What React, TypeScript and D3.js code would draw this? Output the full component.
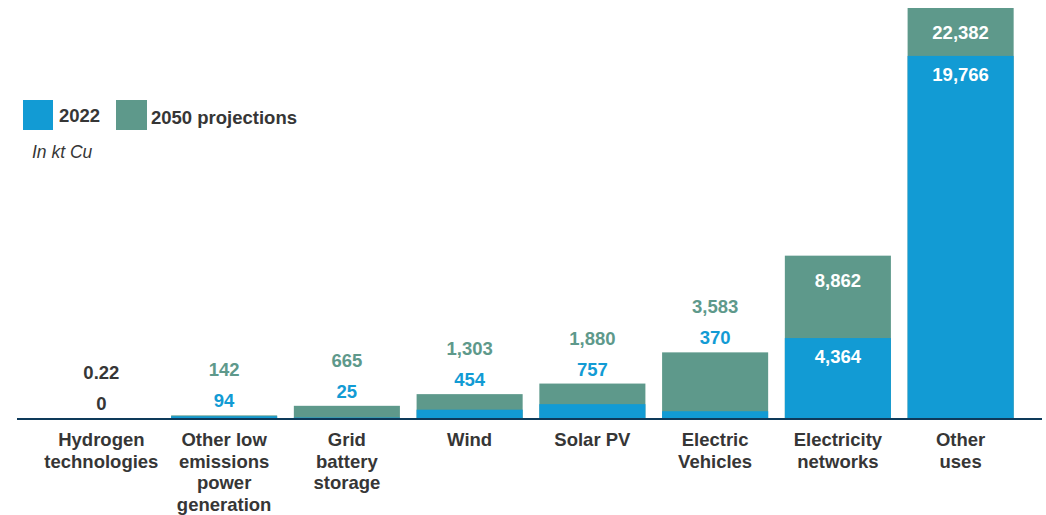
import { useEffect } from "react";
import * as d3 from "d3";

const categories = [
  "Hydrogen technologies",
  "Other low emissions power generation",
  "Grid battery storage",
  "Wind",
  "Solar PV",
  "Electric Vehicles",
  "Electricity networks",
  "Other uses",
];
const categoryLines = [
  ["Hydrogen", "technologies"],
  ["Other low", "emissions", "power", "generation"],
  ["Grid", "battery", "storage"],
  ["Wind"],
  ["Solar PV"],
  ["Electric", "Vehicles"],
  ["Electricity", "networks"],
  ["Other", "uses"],
];
const values2022 = [0, 94, 25, 454, 757, 370, 4364, 19766];
const values2050 = [0.22, 142, 665, 1303, 1880, 3583, 8862, 22382];
const labels2022 = ["0", "94", "25", "454", "757", "370", "4,364", "19,766"];
const labels2050 = ["0.22", "142", "665", "1,303", "1,880", "3,583", "8,862", "22,382"];

const WIDTH = 1046;
const HEIGHT = 515;
const BLUE = "#129bd4";
const GREEN = "#5e998b";
const TEXT = "#363636";
const AXIS = "#0e3a5a";
const FONT = "'Liberation Sans', Arial, sans-serif";
const FS = 18.5;

export default function App() {
  useEffect(() => {
    document.body.style.margin = "0";
    document.body.style.overflow = "hidden";
  }, []);

  const x = d3
    .scaleBand()
    .domain(categories)
    .range([40, 1022])
    .paddingInner(0.136)
    .paddingOuter(0.068);
  const y = d3.scaleLinear().domain([0, 22382]).range([418, 8]);
  const baseline = y(0);

  return (
    <svg width={WIDTH} height={HEIGHT} style={{ display: "block", fontFamily: FONT }}>
      {/* legend */}
      <rect x={23} y={100} width={30} height={30} fill={BLUE} />
      <text x={59} y={122} fontSize={FS} fontWeight="bold" fill={TEXT}>
        2022
      </text>
      <rect x={116} y={100} width={31} height={30} fill={GREEN} />
      <text x={151} y={124} fontSize={FS} fontWeight="bold" fill={TEXT}>
        2050 projections
      </text>
      <text x={32} y={158} fontSize={17.5} fontStyle="italic" fill={TEXT}>
        In kt Cu
      </text>

      {categories.map((cat, i) => {
        const bx = x(cat) ?? 0;
        const bw = x.bandwidth();
        const cx = bx + bw / 2;
        const top50 = y(values2050[i]);
        const top22 = y(values2022[i]);
        const inside = values2050[i] > 5000;
        const zero = values2022[i] === 0;
        const c22 = inside ? "#fff" : zero ? TEXT : BLUE;
        const c50 = inside ? "#fff" : zero ? TEXT : GREEN;
        const y50 = inside ? top50 + 31 : top50 - 39;
        const y22 = inside ? top22 + 25 : top50 - 8;
        return (
          <g key={cat}>
            <rect x={bx} y={top50} width={bw} height={baseline - top50} fill={GREEN} />
            <rect x={bx} y={top22} width={bw} height={baseline - top22} fill={BLUE} />
            <text x={cx} y={y50} textAnchor="middle" fontSize={FS} fontWeight="bold" fill={c50}>
              {labels2050[i]}
            </text>
            <text x={cx} y={y22} textAnchor="middle" fontSize={FS} fontWeight="bold" fill={c22}>
              {labels2022[i]}
            </text>
            <text textAnchor="middle" fontSize={FS} fontWeight="bold" fill={TEXT}>
              {categoryLines[i].map((line, j) => (
                <tspan key={j} x={cx} y={446 + j * 21.7}>
                  {line}
                </tspan>
              ))}
            </text>
          </g>
        );
      })}

      <line x1={17} x2={1042} y1={419} y2={419} stroke={AXIS} strokeWidth={2.2} />
    </svg>
  );
}
